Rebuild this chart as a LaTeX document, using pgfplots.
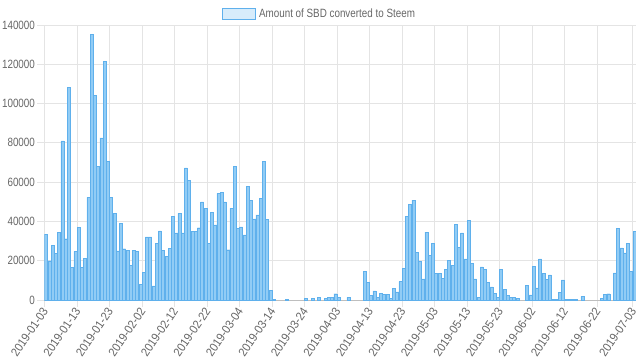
\documentclass[border=0pt]{standalone}
\usepackage{fontspec}
\setmainfont{Liberation Sans}[FakeStretch=0.82]
\newfontfamily\xlabfont{Liberation Sans}[FakeStretch=0.92]
\usepackage{pgfplots}
\pgfplotsset{compat=1.18}
\definecolor{tickgray}{RGB}{102,102,102}
\definecolor{gridgray}{RGB}{228,228,228}
\definecolor{zerogray}{RGB}{190,190,190}
\definecolor{barfill}{RGB}{145,204,245}
\definecolor{baredge}{RGB}{95,176,236}
\definecolor{legfill}{RGB}{215,236,251}
\begin{document}
\begin{tikzpicture}
\path[use as bounding box] (-33.375pt,-45.75pt) rectangle (446.625pt,225pt);
\begin{axis}[
  at={(0,0)}, anchor=south west,
  scale only axis, width=443.625pt, height=206.25pt,
  xmin=-0.5, xmax=181.5, ymin=0, ymax=140000,
  axis lines*=left,
  x axis line style={draw=zerogray,-},
  y axis line style={draw=gridgray,-},
  ytick={0,20000,40000,60000,80000,100000,120000,140000},
  scaled y ticks=false,
  /pgf/number format/fixed,
  /pgf/number format/1000 sep={},
  /pgf/number format/assume math mode=true,
  yticklabel style={font=\fontsize{9pt}{10pt}\selectfont, text=tickgray, inner sep=1.5pt},
  ymajorgrids=true,
  grid style={draw=gridgray, line width=0.6pt},
  xtick={0,10,20,30,40,50,60,70,80,90,100,110,120,130,140,150,160,170,181},
  xticklabels={2019-01-03,2019-01-13,2019-01-23,2019-02-02,2019-02-12,2019-02-22,2019-03-04,2019-03-14,2019-03-24,2019-04-03,2019-04-13,2019-04-23,2019-05-03,2019-05-13,2019-05-23,2019-06-02,2019-06-12,2019-06-22,2019-07-03},
  xticklabel style={font=\xlabfont\fontsize{9pt}{10pt}\selectfont, text=tickgray, rotate=56, anchor=east, inner sep=1pt},
  minor xtick={-0.5,9.5,19.5,29.5,39.5,49.5,59.5,69.5,79.5,89.5,99.5,109.5,119.5,129.5,139.5,149.5,159.5,169.5,180.5},
  xminorgrids=true,
  minor grid style={draw=gridgray, line width=0.6pt},
  tick align=outside,
  major tick length=5.5pt,
  minor tick length=5.5pt,
  xtick style={draw=none},
  ytick style={draw=gridgray, line width=0.6pt},
  minor x tick style={draw=gridgray, line width=0.6pt},
  legend style={at={(axis description cs:0.4658,1.04)}, anchor=center, draw=none, fill=none,
    font=\fontsize{9pt}{10pt}\selectfont, text=tickgray, inner sep=0pt},
  legend image code/.code={\draw[fill=legfill, draw=baredge, line width=0.75pt] (0pt,-4.1pt) rectangle (24.75pt,4.1pt);},
]
\addplot[ybar, bar width=0.88, bar shift=0pt, fill=barfill, draw=baredge, line width=0.3pt] coordinates {
(0,33600) (1,20000) (2,28000) (3,23800) (4,34600) (5,81000) (6,31200) (7,108200) (8,16800) (9,24800)
(10,37000) (11,16500) (12,21300) (13,52200) (14,135300) (15,104200) (16,68200) (17,82500) (18,121600) (19,70700)
(20,52400) (21,44200) (22,25000) (23,39000) (24,26100) (25,25200) (26,17600) (27,25100) (28,24800) (29,7800)
(30,14000) (31,32200) (32,32200) (33,7200) (34,29000) (35,35200) (36,25100) (37,22200) (38,26200) (39,42600)
(40,34200) (41,44100) (42,34200) (43,67300) (44,61000) (45,35000) (46,34800) (47,36800) (48,49900) (49,46800)
(50,28900) (51,44800) (52,38300) (53,54300) (54,54700) (55,50000) (56,25600) (57,46700) (58,68100) (59,36600)
(60,37200) (61,33100) (62,57800) (63,50800) (64,41300) (65,43400) (66,51700) (67,70500) (68,41000) (69,4900)
(70,300) (74,400) (80,700) (82,700) (84,1400) (86,1000) (87,1400) (88,1400) (89,3200)
(90,1400) (93,1300) (98,14500) (99,9000)
(100,2400) (101,4600) (102,1500) (103,3400) (104,2700) (105,2700) (106,800) (107,5800) (108,4100) (109,9400)
(110,16100) (111,42600) (112,48700) (113,50800) (114,24300) (115,19800) (116,10800) (117,34500) (118,22600) (119,28900)
(120,13500) (121,13500) (122,10900) (123,15600) (124,20300) (125,17800) (126,38500) (127,26800) (128,34200) (129,20900)
(130,40500) (131,18600) (132,10800) (133,1400) (134,16900) (135,15600) (136,8900) (137,6700) (138,3400) (139,1400)
(140,15600) (141,5300) (142,2200) (143,1500) (144,1500) (145,700) (148,7400) (149,2600)
(150,17100) (151,6200) (152,21000) (153,13500) (154,10600) (155,12800) (156,500) (157,300) (158,3800) (159,10300)
(160,500) (161,300) (162,300) (163,300) (165,1800)
(171,1000) (172,2800) (173,3200) (175,13800) (176,36300) (177,26600) (178,24000) (179,28900)
(180,14500) (181,35000)
};
\addlegendentry{Amount of SBD converted to Steem}
\end{axis}
\end{tikzpicture}
\end{document}
